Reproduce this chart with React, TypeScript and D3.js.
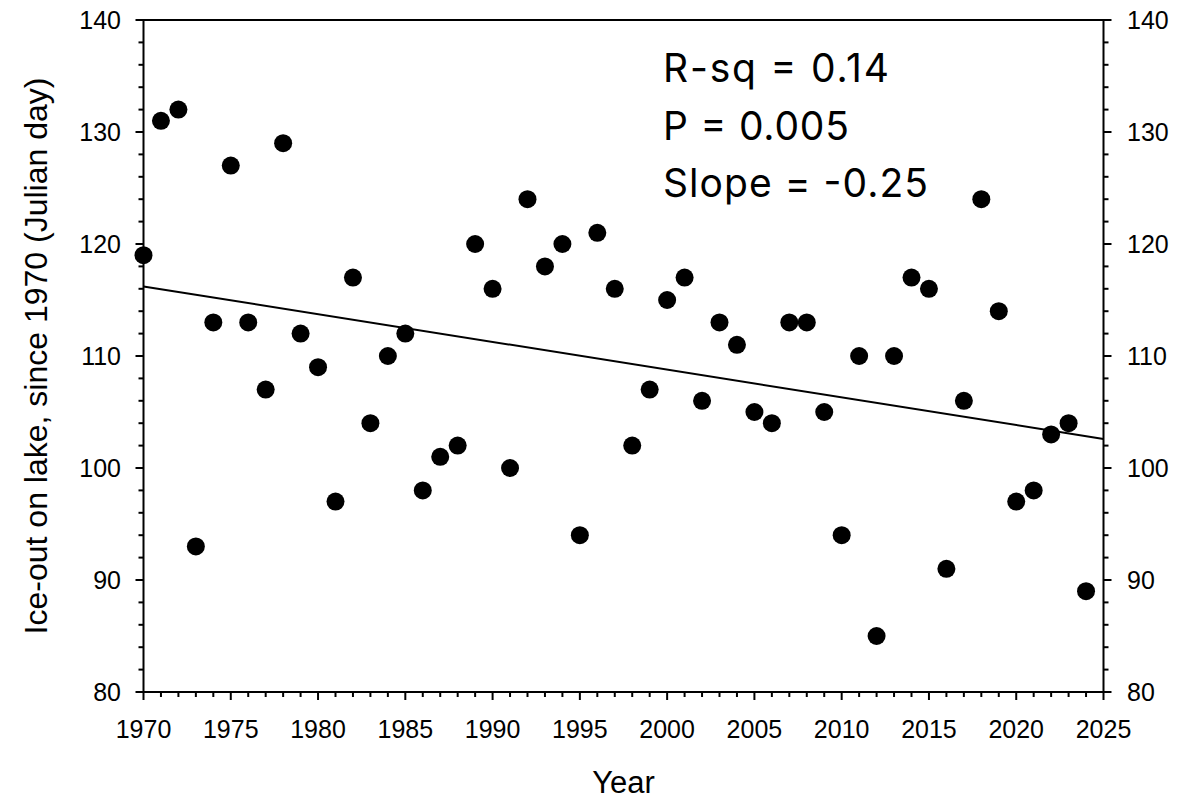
import React from "react";
import * as d3 from "d3";

const years: number[] = [
  1970, 1971, 1972, 1973, 1974, 1975, 1976, 1977, 1978, 1979,
  1980, 1981, 1982, 1983, 1984, 1985, 1986, 1987, 1988, 1989,
  1990, 1991, 1992, 1993, 1994, 1995, 1996, 1997, 1998, 1999,
  2000, 2001, 2002, 2003, 2004, 2005, 2006, 2007, 2008, 2009,
  2010, 2011, 2012, 2013, 2014, 2015, 2016, 2017, 2018, 2019,
  2020, 2021, 2022, 2023, 2024,
];
const iceOut: number[] = [
  119, 131, 132, 93, 113, 127, 113, 107, 129, 112,
  109, 97, 117, 104, 110, 112, 98, 101, 102, 120,
  116, 100, 124, 118, 120, 94, 121, 116, 102, 107,
  115, 117, 106, 113, 111, 105, 104, 113, 113, 105,
  94, 110, 85, 110, 117, 116, 91, 106, 124, 114,
  97, 98, 103, 104, 89,
];
const xTicks: number[] = [1970, 1975, 1980, 1985, 1990, 1995, 2000, 2005, 2010, 2015, 2020, 2025];
const yTicks: number[] = [80, 90, 100, 110, 120, 130, 140];
const statsLines: string[] = ["R-sq = 0.14", "P = 0.005", "Slope = -0.25"];
const statsWidths: number[] = [226, 186, 265];

const W = 1202;
const H = 800;
const L = 143.5;
const R = 1103.5;
const T = 20;
const B = 692;

export default function App() {
  const x = d3.scaleLinear().domain([1970, 2025]).range([L, R]);
  const y = d3.scaleLinear().domain([80, 140]).range([B, T]);

  const mx = d3.mean(years)!;
  const my = d3.mean(iceOut)!;
  let sxy = 0, sxx = 0;
  years.forEach((yr, i) => { sxy += (yr - mx) * (iceOut[i] - my); sxx += (yr - mx) ** 2; });
  const slope = sxy / sxx;
  const icpt = my - slope * mx;
  const line = d3.line<number>().x((d) => x(d)).y((d) => y(icpt + slope * d));

  const xMinor = d3.range(1970, 2026, 1);
  const yMinor = d3.range(80, 141, 2);
  const font = "Liberation Sans, Arial, sans-serif";

  return (
    <svg width={W} height={H} style={{ position: "absolute", left: 0, top: 0, background: "#fff" }}>
      <rect x={0} y={0} width={W} height={H} fill="#fff" />
      <path d={`M${L},${B}V${T}H${R}V${B}H${L}`} fill="none" stroke="#000" strokeWidth={2} />
      {xMinor.map((v) => (
        <line key={"xm" + v} x1={x(v)} x2={x(v)} y1={B} y2={B + (v % 5 === 0 ? 8 : 5)} stroke="#000" strokeWidth={2} />
      ))}
      {yMinor.map((v) => (
        <g key={"ym" + v}>
          <line x1={L} x2={L - (v % 10 === 0 ? 8 : 5)} y1={y(v)} y2={y(v)} stroke="#000" strokeWidth={2} />
          <line x1={R} x2={R + (v % 10 === 0 ? 8 : 5)} y1={y(v)} y2={y(v)} stroke="#000" strokeWidth={2} />
        </g>
      ))}
      {xTicks.map((v) => (
        <text key={"xt" + v} x={x(v)} y={738} textAnchor="middle" fontFamily={font} fontSize={25} fill="#000">{v}</text>
      ))}
      {yTicks.map((v) => (
        <g key={"yt" + v}>
          <text x={121} y={y(v) + 9} textAnchor="end" fontFamily={font} fontSize={25} fill="#000">{v}</text>
          <text x={1127} y={y(v) + 9} textAnchor="start" fontFamily={font} fontSize={25} fill="#000">{v}</text>
        </g>
      ))}
      <text x={(L + R) / 2} y={793} textAnchor="middle" fontFamily={font} fontSize={31} fill="#000">Year</text>
      <text transform={`translate(47,${(T + B) / 2}) rotate(-90)`} textAnchor="middle" fontFamily={font} fontSize={32} fill="#000">
        Ice-out on lake, since 1970 (Julian day)
      </text>
      <path d={line([1970, 2025]) || ""} fill="none" stroke="#000" strokeWidth={2} />
      {years.map((yr, i) => (
        <circle key={"p" + yr} cx={x(yr)} cy={y(iceOut[i])} r={9} fill="#000" />
      ))}
      {statsLines.map((s, i) => (
        <text key={"s" + i} x={663} y={82 + i * 57.5} fontFamily="Inter, Open Sans, sans-serif" fontSize={39}
          textLength={statsWidths[i]} lengthAdjust="spacing" fill="#000">{s}</text>
      ))}
    </svg>
  );
}
